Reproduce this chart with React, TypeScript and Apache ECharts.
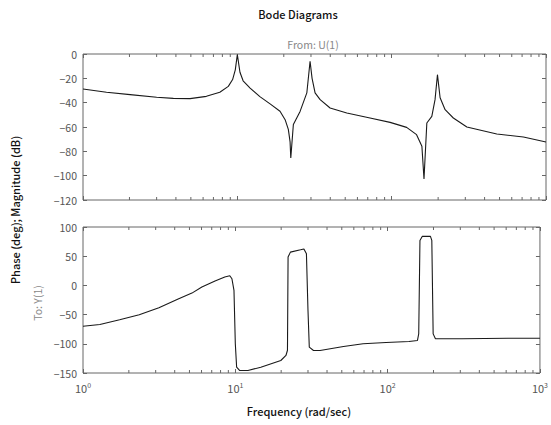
import React, { useEffect, useRef } from "react";
import * as echarts from "echarts";

// Magnitude response (dB) vs frequency (rad/sec)
const magFreq = [1, 1.42, 2.02, 3.0, 3.85, 4.94, 6.3, 7.7, 8.74, 9.32, 9.7, 10.0, 10.4, 10.9, 12.1, 14.0, 16.3, 18.9, 20.4, 21.4, 21.96, 22.2, 23.07, 25.5, 28.2, 29.6, 30.5, 31.9, 34.4, 39.9, 51.2, 72.4, 97.7, 125, 145, 157, 162, 169, 182, 191, 198, 206, 222, 251, 307, 480, 714, 1000];
const magDb = [-28.8, -31.5, -33.4, -35.6, -36.5, -36.7, -34.8, -31.5, -26.6, -21, -13, -0.5, -15, -22, -28, -35, -41, -47, -54, -62, -72, -85.5, -58, -47.2, -32, -6, -20, -32, -37.5, -44.4, -48.5, -52.6, -56.2, -60.3, -66.3, -75.9, -102.7, -56.7, -51.3, -37.5, -17, -36, -45.8, -52.6, -60, -65.7, -68.2, -72.3];

// Phase response (deg) vs frequency (rad/sec)
const phaseFreq = [1, 1.29, 1.74, 2.34, 3.15, 4.25, 5.19, 6.03, 7.36, 8.53, 9.2, 9.5, 9.8, 10.0, 10.2, 10.7, 12.1, 14.7, 19.9, 21.5, 22.0, 22.2, 23, 26.8, 28.2, 29.3, 30, 30.6, 32.6, 36, 51.3, 69, 97.7, 138, 157, 160, 163, 169, 191, 195, 199, 206, 307, 617, 1000];
const phaseDeg = [-70, -66.9, -58.9, -50.3, -38.3, -22.9, -13.2, -2.9, 7.5, 14.3, 16.5, 11.4, -8.6, -100, -140, -145.8, -145.8, -140, -128.6, -120, -111, 48.6, 57, 61, 62.4, 54, -43, -105.8, -111.4, -111.4, -104.6, -100, -97.8, -96.1, -94.3, -82.8, 77, 84, 84, 77, -83, -91.4, -91.4, -90.6, -90.6];

// Minor tick positions of the logarithmic frequency axis
const minorFreqs = [2, 3, 4, 5, 6, 7, 8, 9, 20, 30, 40, 50, 60, 70, 80, 90, 200, 300, 400, 500, 600, 700, 800, 900];

const magRange = [-120, 0];
const phaseRange = [-150, 100];

const FONT = "'Noto Sans CJK JP', 'Noto Sans', sans-serif";
const AXIS_COLOR = "#666";
const LABEL_COLOR = "#555";

const fmtY = (v: number) => String(v).replace("-", "\u2212");

export default function App() {
  const ref = useRef<HTMLDivElement>(null);

  useEffect(() => {
    if (!ref.current) return;
    const chart = echarts.init(ref.current, undefined, { renderer: "svg" });

    const grids = [
      { left: 83, top: 54, width: 463, height: 146 },
      { left: 83, top: 227, width: 463, height: 146 },
    ];

    const tick = { show: true, inside: true, length: 4, lineStyle: { color: AXIS_COLOR } };

    const baseX = (gridIndex: number, showLabels: boolean) => ({
      type: "log" as const,
      logBase: 10,
      min: 1,
      max: 1000,
      gridIndex,
      position: "bottom" as const,
      axisLine: { show: false, onZero: false },
      axisTick: tick,
      splitLine: { show: false },
      axisLabel: {
        show: showLabels,
        margin: 8,
        color: LABEL_COLOR,
        fontFamily: FONT,
        fontSize: 11,
        formatter: (v: number) => `10{sup|${Math.round(Math.log10(v))}}`,
        rich: {
          sup: { fontSize: 7, fontFamily: FONT, color: LABEL_COLOR, padding: [0, 0, 7, 0] },
        },
      },
    });

    const topX = (gridIndex: number) => ({
      type: "log" as const,
      logBase: 10,
      min: 1,
      max: 1000,
      gridIndex,
      position: "top" as const,
      axisLine: { show: false, onZero: false },
      axisTick: tick,
      splitLine: { show: false },
      axisLabel: { show: false },
    });

    const sideY = (gridIndex: number, range: number[], interval: number, side: "left" | "right") => ({
      type: "value" as const,
      gridIndex,
      min: range[0],
      max: range[1],
      interval,
      position: side,
      axisLine: { show: false, onZero: false },
      axisTick: tick,
      splitLine: { show: false },
      axisLabel:
        side === "left"
          ? { color: LABEL_COLOR, fontFamily: FONT, fontSize: 10.5, margin: 6, formatter: fmtY }
          : { show: false },
    });

    const minorTickSeries = (xAxisIndex: number, yAxisIndex: number, range: number[]) => ({
      type: "custom" as const,
      xAxisIndex,
      yAxisIndex,
      silent: true,
      clip: false,
      encode: { x: 0, y: 1 },
      data: minorFreqs.map((f) => [f, range[0]]),
      renderItem: (_params: any, api: any) => {
        const f = api.value(0);
        const pb = api.coord([f, range[0]]);
        const pt = api.coord([f, range[1]]);
        const style = { stroke: AXIS_COLOR, lineWidth: 1 };
        return {
          type: "group",
          children: [
            { type: "line", shape: { x1: pb[0], y1: pb[1], x2: pb[0], y2: pb[1] - 3 }, style },
            { type: "line", shape: { x1: pt[0], y1: pt[1], x2: pt[0], y2: pt[1] + 3 }, style },
          ],
        };
      },
    });

    const curveStyle = { color: "#1a1a1a", width: 1.1 };

    const label = (text: string, x: number, y: number, opts: any = {}) => ({
      type: "text",
      x,
      y,
      rotation: opts.rotation || 0,
      style: {
        text,
        fontFamily: FONT,
        fontSize: opts.fontSize || 11,
        fontWeight: opts.fontWeight || "normal",
        fill: opts.fill || "#111",
        align: "center",
        verticalAlign: "middle",
        textAlign: "center",
        textVerticalAlign: "middle",
      },
    });

    chart.setOption({
      animation: false,
      backgroundColor: "#fff",
      grid: grids.map((g) => ({
        ...g,
        show: true,
        borderColor: AXIS_COLOR,
        borderWidth: 1,
        backgroundColor: "transparent",
      })),
      xAxis: [baseX(0, false), baseX(1, true), topX(0), topX(1)],
      yAxis: [
        sideY(0, magRange, 20, "left"),
        sideY(1, phaseRange, 50, "left"),
        sideY(0, magRange, 20, "right"),
        sideY(1, phaseRange, 50, "right"),
      ],
      series: [
        {
          type: "line",
          xAxisIndex: 0,
          yAxisIndex: 0,
          data: magFreq.map((f, i) => [f, magDb[i]]),
          showSymbol: false,
          symbol: "none",
          lineStyle: curveStyle,
        },
        {
          type: "line",
          xAxisIndex: 1,
          yAxisIndex: 1,
          data: phaseFreq.map((f, i) => [f, phaseDeg[i]]),
          showSymbol: false,
          symbol: "none",
          lineStyle: curveStyle,
        },
        minorTickSeries(0, 0, magRange),
        minorTickSeries(1, 1, phaseRange),
      ],
      graphic: [
        label("Bode Diagrams", 298, 14, { fontWeight: 500 }),
        label("From: U(1)", 313, 44, { fontSize: 10.5, fill: "#888" }),
        label("Phase (deg); Magnitude (dB)", 15, 210, { fontWeight: 500, rotation: Math.PI / 2 }),
        label("To: Y(1)", 37, 303, { fontSize: 10.5, fill: "#888", rotation: Math.PI / 2 }),
        label("Frequency (rad/sec)", 299, 411, { fontWeight: 500 }),
      ],
    });

    return () => chart.dispose();
  }, []);

  return (
    <div
      ref={ref}
      style={{ position: "fixed", left: 0, top: 0, width: 551, height: 425, background: "#fff" }}
    />
  );
}
